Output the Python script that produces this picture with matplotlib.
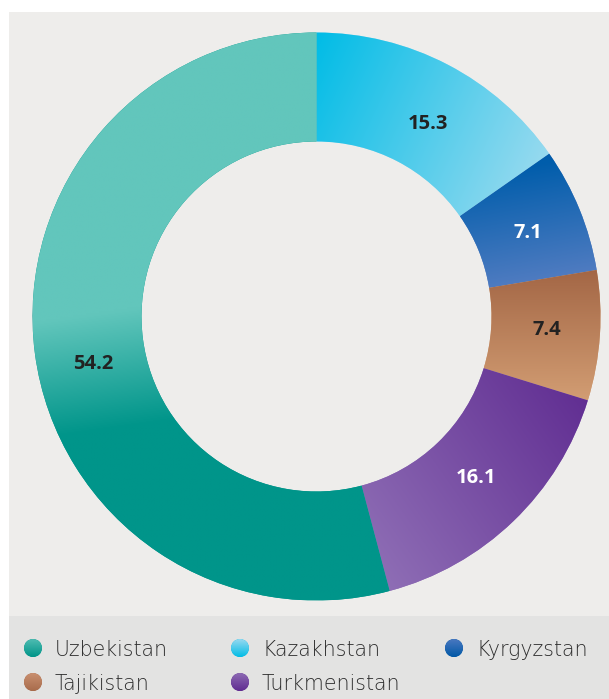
import numpy as np
import matplotlib.pyplot as plt
from matplotlib.colors import to_rgb
from matplotlib.patches import Rectangle, Circle

# data, clockwise from 12 o'clock
countries = ['Kazakhstan', 'Kyrgyzstan', 'Tajikistan', 'Turkmenistan', 'Uzbekistan']
shares = [15.3, 7.1, 7.4, 16.1, 54.2]
value_labels = ['15.3', '7.1', '7.4', '16.1', '54.2']
legend_order = ['Uzbekistan', 'Kazakhstan', 'Kyrgyzstan', 'Tajikistan', 'Turkmenistan']

# gradient per country: start colour, end colour, direction (deg), start/end fraction
gradients = {
    'Uzbekistan': ('#62c6bc', '#00958a', -82, 0.47, 0.66),
    'Kazakhstan': ('#00bce6', '#a6ddf0', -25, 0.0, 1.0),
    'Kyrgyzstan': ('#005dab', '#5b80c4', -80, 0.15, 1.0),
    'Tajikistan': ('#a36645', '#d29d73', -90, 0.0, 1.0),
    'Turkmenistan': ('#5e2a90', '#9273b8', -145, 0.0, 1.0),
}
label_colors = {'Uzbekistan': '#222222', 'Kazakhstan': '#222222', 'Kyrgyzstan': 'white',
                'Tajikistan': '#222222', 'Turkmenistan': 'white'}
# small label shifts in pixels (right, down)
label_nudge = {'Kazakhstan': (7, 5), 'Kyrgyzstan': (2, -1), 'Tajikistan': (5, -4),
               'Turkmenistan': (3, -4), 'Uzbekistan': (1, 16)}
legend_grad = {
    'Uzbekistan': ('#4fbcb2', '#009488'),
    'Kazakhstan': ('#98d9f0', '#00bce6'),
    'Kyrgyzstan': ('#4a78c0', '#0058a6'),
    'Tajikistan': ('#c99070', '#a86b4b'),
    'Turkmenistan': ('#8d6ab3', '#602c91'),
}

W, H = 609, 699


def fill_gradient(ax, patch, c0, c1, angle, lo=0.0, hi=1.0):
    ext = patch.get_path().get_extents(patch.get_patch_transform())
    x0, y0, x1, y1 = ext.x0, ext.y0, ext.x1, ext.y1
    X, Y = np.meshgrid(np.linspace(x0, x1, 300), np.linspace(y0, y1, 300))
    a = np.deg2rad(angle)
    p = X * np.cos(a) + Y * np.sin(a)
    t = (p - p.min()) / (p.max() - p.min())
    t = np.clip((t - lo) / (hi - lo), 0, 1)[..., None]
    img = (1 - t) * np.array(to_rgb(c0)) + t * np.array(to_rgb(c1))
    im = ax.imshow(img, extent=(x0, x1, y0, y1), origin='lower',
                   interpolation='bilinear', zorder=3)
    im.set_clip_path(patch)


fig = plt.figure(figsize=(W / 100, H / 100), dpi=100)
fig.patch.set_facecolor('white')
ax = fig.add_axes([0, 0, 1, 1])

# panels
ax.add_patch(Rectangle((9, 0), W - 9, 83, facecolor='#e3e3e2', lw=0, zorder=0))
ax.add_patch(Rectangle((9, 83), W - 9, H - 12 - 83, facecolor='#eeedeb', lw=0, zorder=0))

R, ring = 284, 109
cx, cy = 316.5, H - 316.5
wedges, _ = ax.pie(shares, startangle=90, counterclock=False, radius=R, center=(cx, cy),
                   wedgeprops=dict(width=ring, linewidth=0))

for w, name, lab in zip(wedges, countries, value_labels):
    c0, c1, ang, lo, hi = gradients[name]
    w.set_facecolor(c1)
    w.set_zorder(2)
    fill_gradient(ax, w, c0, c1, ang, lo, hi)
    mid = np.deg2rad((w.theta1 + w.theta2) / 2)
    r = 226
    dx, dy = label_nudge[name]
    ax.text(cx + r * np.cos(mid) + dx, cy + r * np.sin(mid) - dy, lab,
            ha='center', va='center_baseline', fontsize=14.5, fontweight='bold',
            family='Open Sans', color=label_colors[name], zorder=5)

# legend
col_x = [33, 240, 454]
row_y = [H - 648, H - 682]
for i, name in enumerate(legend_order):
    x = col_x[i % 3]
    y = row_y[i // 3]
    c = Circle((x, y), 9, facecolor=legend_grad[name][1], lw=0, zorder=2)
    ax.add_patch(c)
    fill_gradient(ax, c, legend_grad[name][0], legend_grad[name][1], -90)
    ax.text(x + 22, y, name, ha='left', va='center_baseline', fontsize=14.8,
            fontweight='light', family='DejaVu Sans', color='#2e2e2e', zorder=5)

ax.set_xlim(0, W)
ax.set_ylim(0, H)
ax.set_aspect('auto')
ax.axis('off')

fig.savefig('out.png', dpi=100, facecolor='white')
